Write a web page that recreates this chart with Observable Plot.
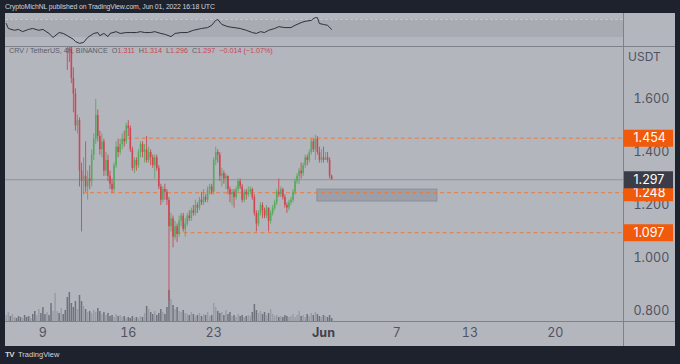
<!DOCTYPE html>
<html><head><meta charset="utf-8">
<script src="https://cdn.jsdelivr.net/npm/d3@7"></script>
<script src="https://cdn.jsdelivr.net/npm/@observablehq/plot@0.6"></script>
<style>
html,body{margin:0;padding:0;background:#1e222d;}
#root{position:relative;width:680px;height:364px;background:#1e222d;overflow:hidden;font-family:"Liberation Sans",Arial,sans-serif;}
#panel{position:absolute;left:5px;top:13px;width:670px;height:333px;background:#b4b6be;overflow:hidden;}
.abs{position:absolute;}
.sep{position:absolute;background:#7e818a;}
#legend{left:4px;top:33px;font-size:7.2px;color:#5a5d68;white-space:pre;line-height:9px;}
#legend .v{color:#c8454f;}
</style></head><body>
<div id="root">
  <div class="abs" style="left:5px;top:3px;font-size:6.9px;letter-spacing:-0.12px;color:#d1d4dc;white-space:pre;">CryptoMichNL published on TradingView.com, Jun 01, 2022 16:18 UTC</div>
  <div id="panel">
    <div id="rsi" class="abs" style="left:0;top:0"></div>
    <div id="vol" class="abs" style="left:0;top:33px"></div>
    <div id="main" class="abs" style="left:0;top:33px"></div>
    <div class="sep" style="left:0;top:33px;width:670px;height:1px"></div>
    <div class="sep" style="left:0;top:308px;width:670px;height:1px"></div>
    <div class="sep" style="left:618px;top:0;width:1px;height:333px"></div>
    <div id="legend" class="abs">CRV / TetherUS, 4h, BINANCE  O<span class="v">1.311</span>  H<span class="v">1.314</span>  L<span class="v">1.296</span>  C<span class="v">1.297</span>  <span class="v">−0.014 (−1.07%)</span></div>
    <div class="abs" style="left:623px;top:36px;font-family:Inter,sans-serif;font-size:12px;color:#50535e;">USDT</div>
  </div>
  <div class="abs" style="left:5px;top:350px;font-size:7.5px;color:#d1d4dc;white-space:pre;"><b style="font-size:8px;letter-spacing:-0.6px">TV</b>  TradingView</div>
</div>
<script>
// ---- data (4h candles from 2022-05-06 00:00 UTC) ----
const opens = [2.05,2.08,2.12,2.05,2.10,2.15,2.11,2.06,2.02,2.07,2.04,2.00,1.97,2.01,1.98,1.95,1.99,2.03,2.00,1.96,1.93,1.97,1.94,1.90,1.92,1.96,2.00,1.98,2.02,1.99,
1.97,1.86,1.85,1.68,1.62,1.50,1.52,1.33,1.29,1.31,1.27,1.30,1.29,1.39,1.45,1.54,1.46,1.41,1.44,1.33,1.37,1.31,1.28,1.26,1.35,1.42,1.40,1.43,1.45,1.44,
1.50,1.49,1.41,1.34,1.37,1.35,1.40,1.43,1.40,1.41,1.37,1.40,1.38,1.35,1.38,1.34,1.27,1.22,1.26,1.25,1.22,1.12,1.15,1.08,1.12,1.09,1.14,1.16,1.11,1.13,
1.16,1.15,1.18,1.17,1.20,1.19,1.22,1.21,1.23,1.22,1.26,1.27,1.25,1.37,1.40,1.39,1.31,1.32,1.30,1.31,1.26,1.24,1.25,1.23,1.26,1.29,1.27,1.22,1.25,1.24,
1.25,1.26,1.23,1.17,1.13,1.17,1.20,1.18,1.16,1.19,1.14,1.17,1.19,1.21,1.25,1.24,1.26,1.23,1.20,1.19,1.21,1.22,1.25,1.29,1.31,1.33,1.32,1.35,1.38,1.37,
1.40,1.44,1.41,1.45,1.40,1.37,1.38,1.37,1.38,1.37,1.311];
const highs = [2.11,2.15,2.15,2.13,2.18,2.18,2.14,2.09,2.10,2.10,2.07,2.03,2.04,2.04,2.01,2.02,2.06,2.06,2.03,1.99,2.00,2.00,1.97,1.95,1.99,2.03,2.03,2.05,2.05,2.02,
2.00,1.92,1.88,1.72,1.64,1.54,1.53,1.36,1.38,1.44,1.33,1.35,1.41,1.47,1.60,1.56,1.48,1.47,1.45,1.40,1.39,1.33,1.30,1.36,1.44,1.45,1.45,1.47,1.48,1.51,
1.52,1.50,1.42,1.38,1.38,1.41,1.44,1.44,1.43,1.46,1.42,1.41,1.39,1.39,1.39,1.35,1.28,1.27,1.28,1.26,1.23,1.17,1.16,1.14,1.13,1.16,1.17,1.17,1.15,1.17,
1.18,1.19,1.20,1.22,1.21,1.23,1.25,1.26,1.24,1.27,1.28,1.28,1.38,1.42,1.41,1.40,1.34,1.33,1.32,1.31,1.27,1.26,1.26,1.27,1.30,1.30,1.28,1.26,1.26,1.27,
1.27,1.265,1.24,1.18,1.18,1.21,1.21,1.19,1.20,1.19,1.18,1.20,1.22,1.26,1.30,1.27,1.265,1.24,1.21,1.22,1.23,1.26,1.30,1.32,1.34,1.36,1.36,1.39,1.39,1.41,
1.45,1.45,1.465,1.46,1.42,1.41,1.42,1.40,1.40,1.38,1.314];
const lows = [2.02,2.05,2.02,2.02,2.07,2.08,2.03,1.99,1.99,2.01,1.97,1.94,1.94,1.95,1.92,1.92,1.96,1.97,1.93,1.90,1.90,1.91,1.87,1.87,1.89,1.93,1.95,1.95,1.96,1.94,
1.71,1.74,1.66,1.55,1.48,1.47,1.27,1.10,1.24,1.25,1.22,1.26,1.27,1.37,1.43,1.44,1.39,1.38,1.31,1.31,1.29,1.26,1.245,1.25,1.34,1.38,1.39,1.41,1.42,1.43,
1.46,1.40,1.33,1.32,1.33,1.34,1.38,1.38,1.36,1.36,1.36,1.35,1.34,1.30,1.33,1.26,1.20,1.21,1.22,1.20,0.84,1.10,1.04,1.07,1.06,1.08,1.12,1.10,1.08,1.12,
1.14,1.14,1.16,1.16,1.17,1.18,1.20,1.20,1.21,1.21,1.24,1.24,1.24,1.35,1.36,1.29,1.27,1.28,1.26,1.24,1.21,1.20,1.19,1.22,1.25,1.26,1.21,1.21,1.22,1.23,
1.24,1.22,1.16,1.10,1.12,1.16,1.15,1.15,1.15,1.10,1.13,1.16,1.18,1.20,1.23,1.23,1.22,1.19,1.17,1.18,1.20,1.21,1.24,1.28,1.28,1.30,1.31,1.34,1.35,1.36,
1.39,1.40,1.37,1.39,1.36,1.36,1.36,1.37,1.36,1.30,1.296];
const closes = [2.08,2.12,2.05,2.10,2.15,2.11,2.06,2.02,2.07,2.04,2.00,1.97,2.01,1.98,1.95,1.99,2.03,2.00,1.96,1.93,1.97,1.94,1.90,1.92,1.96,2.00,1.98,2.02,1.99,1.97,
1.86,1.85,1.68,1.62,1.50,1.52,1.33,1.29,1.31,1.27,1.30,1.29,1.39,1.45,1.54,1.46,1.41,1.44,1.33,1.37,1.31,1.28,1.26,1.35,1.42,1.40,1.43,1.45,1.44,1.50,
1.49,1.41,1.34,1.37,1.35,1.40,1.43,1.40,1.41,1.37,1.40,1.38,1.35,1.38,1.34,1.27,1.22,1.26,1.25,1.22,1.12,1.15,1.08,1.12,1.09,1.14,1.16,1.11,1.13,1.16,
1.15,1.18,1.17,1.20,1.19,1.22,1.21,1.23,1.22,1.26,1.27,1.25,1.37,1.40,1.39,1.31,1.32,1.30,1.31,1.26,1.24,1.25,1.23,1.26,1.29,1.27,1.22,1.25,1.24,1.25,
1.26,1.23,1.17,1.13,1.17,1.20,1.18,1.16,1.19,1.14,1.17,1.19,1.21,1.25,1.24,1.26,1.23,1.20,1.19,1.21,1.22,1.25,1.29,1.31,1.33,1.32,1.35,1.38,1.37,1.40,
1.44,1.41,1.45,1.40,1.37,1.38,1.37,1.38,1.37,1.311,1.297];
const volumes = [6,9,5,7,4, 3,5,4,3,6,4,5,3,7, 10,6,12,8, 14,7, 9,6,18,10, 28, 10,8,13,7,11, 24,29, 18,14,20,12, 26, 20,15,12,9,
10,8,11,9,13,10, 7,9,6,8,5, 6,4,7,5,6,4,5,3, 4,3,5,3,4,3,5,4, 8,15,12, 9,7,10,6,8,12,9,7, 14, 31, 22, 16,12,14,10,9,11,
8,7,6,9,7,5,6,8,5,7,6,9,5,6, 18,14, 10,8,9,6,11,7,9, 5,6,4,7,5,6,4,5,6,5, 9,17, 11,8,10,7,9,6,8,12,7,
5,6,4,5,4,6,5,4,5,7,4,6, 10, 5,6,4,7,5,8,6,9,7,5,4,6,5,4,6,3];
// RSI (14) sampled at candle indices
const rsiIdx = [0,1,4,6,8,11,13,16,18,21,23,26,28,30,33,34,36,38,40,43,45,46,48,50,51,54,56,59,61,64,66,68,71,73,76,78,81,83,86,89,92,96,99,101,103,104,106,109,112,115,118,121,123,125,127,129,132,134,137,140,142,145,147,150,151,152,153,154,156,158,160];
const rsiVal = [61,50,46,48,43,48,50,46,48,39,30,41,39,34,26,21,17,19,30,39,41,34,39,32,39,43,39,41,41,41,43,41,41,43,39,37,32,39,41,41,46,50,52,57,68,70,59,54,52,50,46,41,39,43,41,46,50,54,52,52,57,63,66,68,72,74,74,61,59,57,48];
// horizontal levels
const levels = [1.454, 1.248, 1.097];
const levelStarts = ["2022-05-16T00:00Z","2022-05-12T08:00Z","2022-05-20T00:00Z"];
const lastPrice = 1.297;
const zone = {from:"2022-05-31T12:00Z", to:"2022-06-10T08:00Z", low:1.215, high:1.260};
const priceTicks = [0.8, 1.0, 1.2, 1.4, 1.6];
const tickDates = ["2022-05-09","2022-05-16","2022-05-23","2022-06-01","2022-06-07","2022-06-13","2022-06-20"];
const tickLabels = ["9","16","23","Jun","7","13","20"];

// ---- build ----
const t0 = Date.UTC(2022,4,6);
const H4 = 4*3600e3;
const candles = closes.map((c,i)=>({date:new Date(t0+i*H4), open:opens[i], high:highs[i], low:lows[i], close:c, volume:volumes[i]}));
const rsi = rsiIdx.map((k,j)=>({date:new Date(t0+k*H4), v:rsiVal[j]}));
const xDomain = [new Date(Date.UTC(2022,4,5,22,25)), new Date(Date.UTC(2022,5,25,14,10))];
const UP = "#58a95e", DOWN = "#cb4853", ORANGE = "#f05a0a", DASH = "#eb7a3a";
const col = d => d.close >= d.open ? UP : DOWN;
const tickMap = new Map(tickDates.map((d,i)=>[+new Date(d+"T00:00Z"), tickLabels[i]]));
const font = "Inter, 'Liberation Sans', sans-serif";

const rsiPlot = Plot.plot({
  width:618, height:33, margin:0,
  style:{background:"transparent"},
  x:{type:"utc", domain:xDomain, axis:null},
  y:{domain:[10,83.3], axis:null},
  marks:[
    Plot.rect([zone], {x1:()=>xDomain[0], x2:()=>xDomain[1], y1:()=>30, y2:()=>70, fill:"#a9abb3"}),
    Plot.ruleY([70], {stroke:"#c4c6cd", strokeDasharray:"3,2"}),
    Plot.line(rsi, {x:"date", y:"v", stroke:"#2e313b", strokeWidth:1})
  ]
});
document.getElementById("rsi").appendChild(rsiPlot);

const volPlot = Plot.plot({
  width:618, height:275, margin:0,
  style:{background:"transparent"},
  x:{type:"utc", domain:xDomain, axis:null},
  y:{domain:[0,275], axis:null},
  marks:[
    Plot.ruleX(candles, {x:"date", y1:0, y2:"volume", stroke:d=>d.close>=d.open?"#9a9ca5":"#6f727b", strokeWidth:1.5})
  ]
});
document.getElementById("vol").appendChild(volPlot);

const mainPlot = Plot.plot({
  width:670, height:300, marginLeft:0, marginRight:52, marginTop:0, marginBottom:25,
  style:{background:"transparent", fontFamily:font, fontSize:"12.5px", color:"#50535e"},
  x:{type:"utc", domain:xDomain},
  y:{domain:[0.762,1.8]},
  marks:[
    Plot.axisX(tickDates.filter((d,i)=>tickLabels[i]!=="Jun").map(d=>new Date(d+"T00:00Z")), {tickSize:0, tickPadding:7, tickFormat:d=>tickMap.get(+d), label:null, fill:"#50535e", fontSize:"12.5px"}),
    Plot.axisX(tickDates.filter((d,i)=>tickLabels[i]==="Jun").map(d=>new Date(d+"T00:00Z")), {tickSize:0, tickPadding:7, tickFormat:d=>tickMap.get(+d), label:null, fill:"#3f424c", fontSize:"12.5px", fontWeight:"bold"}),
    Plot.axisY(priceTicks, {anchor:"right", tickSize:0, tickPadding:10, tickFormat:d=>d.toFixed(3), label:null, fill:"#50535e", textAnchor:"start"}),
    Plot.rect([zone], {x1:d=>new Date(d.from), x2:d=>new Date(d.to), y1:"low", y2:"high", fill:"#9c9fa8", stroke:"#8c8f98", strokeWidth:1}),
    Plot.ruleY([lastPrice], {stroke:"#8e9199", strokeWidth:1}),
    Plot.ruleY(levels, {y:d=>d, x1:(d,i)=>new Date(levelStarts[i]), x2:()=>xDomain[1], stroke:DASH, strokeDasharray:"4,3", strokeWidth:1}),
    Plot.ruleX(candles, {x:"date", y1:"low", y2:"high", stroke:col, strokeWidth:0.9, clip:true}),
    Plot.ruleX(candles, {x:"date", y1:"open", y2:"close", stroke:col, strokeWidth:1.6, clip:true}),
    Plot.ruleY(levels, {insetLeft:619, insetRight:-50, stroke:ORANGE, strokeWidth:17}),
    Plot.text(levels, {y:d=>d, text:d=>d.toFixed(3), frameAnchor:"right", dx:10, textAnchor:"start", fill:"#ffffff", fontSize:12.5}),
    Plot.ruleY([lastPrice], {insetLeft:619, insetRight:-50, stroke:"#3a3d48", strokeWidth:17}),
    Plot.text([lastPrice], {y:d=>d, text:d=>d.toFixed(3), frameAnchor:"right", dx:10, textAnchor:"start", fill:"#ffffff", fontSize:12.5})
  ]
});
document.getElementById("main").appendChild(mainPlot);
</script>
</body></html>
